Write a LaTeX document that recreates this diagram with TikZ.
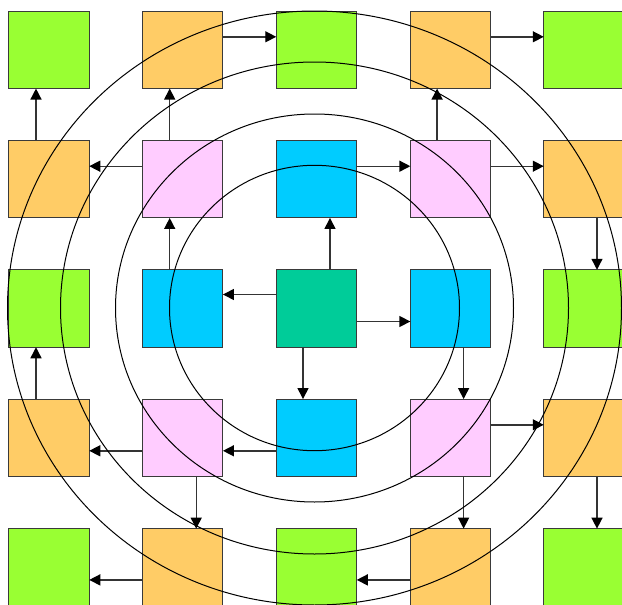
\documentclass[tikz,border=0pt]{standalone}
\usetikzlibrary{arrows.meta}
\definecolor{cgreen}{HTML}{99FF33}
\definecolor{corange}{HTML}{FFCC66}
\definecolor{cpink}{HTML}{FFCCFF}
\definecolor{cblue}{HTML}{00CCFF}
\definecolor{cteal}{HTML}{00CC99}
\definecolor{cedge}{HTML}{3A3A3A}
\begin{document}
\begin{tikzpicture}[x=1pt,y=-1pt,
  sq/.style={draw=cedge,line width=1pt,minimum width=80.5pt,minimum height=77.5pt,inner sep=0pt,outer sep=0pt},
  arr/.style={draw=cedge!90!black,line width=1.4pt,-{Triangle[length=11pt,width=11pt,fill=black,color=black]}},
  ring/.style={draw=black,line width=1pt}]
\clip (0,0) rectangle (622,605);
\fill[white] (0,0) rectangle (622,605);
% columns: 49, 182.7, 316.5, 450.6, 584 ; rows: 49.8, 179.2, 308.5, 437.8, 567.4
\node[sq,fill=cgreen]  (r1c1) at (49,49.8) {};
\node[sq,fill=corange] (r1c2) at (182.7,49.8) {};
\node[sq,fill=cgreen]  (r1c3) at (316.5,49.8) {};
\node[sq,fill=corange] (r1c4) at (450.6,49.8) {};
\node[sq,fill=cgreen]  (r1c5) at (584,49.8) {};
\node[sq,fill=corange] (r2c1) at (49,179.2) {};
\node[sq,fill=cpink]   (r2c2) at (182.7,179.2) {};
\node[sq,fill=cblue]   (r2c3) at (316.5,179.2) {};
\node[sq,fill=cpink]   (r2c4) at (450.6,179.2) {};
\node[sq,fill=corange] (r2c5) at (584,179.2) {};
\node[sq,fill=cgreen]  (r3c1) at (49,308.5) {};
\node[sq,fill=cblue]   (r3c2) at (182.7,308.5) {};
\node[sq,fill=cteal]   (r3c3) at (316.5,308.5) {};
\node[sq,fill=cblue]   (r3c4) at (450.6,308.5) {};
\node[sq,fill=cgreen]  (r3c5) at (584,308.5) {};
\node[sq,fill=corange] (r4c1) at (49,437.8) {};
\node[sq,fill=cpink]   (r4c2) at (182.7,437.8) {};
\node[sq,fill=cblue]   (r4c3) at (316.5,437.8) {};
\node[sq,fill=cpink]   (r4c4) at (450.6,437.8) {};
\node[sq,fill=corange] (r4c5) at (584,437.8) {};
\node[sq,fill=cgreen]  (r5c1) at (49,567.4) {};
\node[sq,fill=corange] (r5c2) at (182.7,567.4) {};
\node[sq,fill=cgreen]  (r5c3) at (316.5,567.4) {};
\node[sq,fill=corange] (r5c4) at (450.6,567.4) {};
\node[sq,fill=cgreen]  (r5c5) at (584,567.4) {};
% connectors
\draw[arr] ([yshift=13pt]r1c2.east) -- ([yshift=13pt]r1c3.west);
\draw[arr] ([yshift=13pt]r1c4.east) -- ([yshift=13pt]r1c5.west);
\draw[arr] ([xshift=-13pt]r2c1.north) -- ([xshift=-13pt]r1c1.south);
\draw[arr] ([xshift=-13pt]r2c2.north) -- ([xshift=-13pt]r1c2.south);
\draw[arr] ([yshift=13pt]r2c2.west) -- ([yshift=13pt]r2c1.east);
\draw[arr] ([xshift=-13pt]r3c2.north) -- ([xshift=-13pt]r2c2.south);
\draw[arr] ([yshift=14pt]r3c3.west) -- ([yshift=14pt]r3c2.east);
\draw[arr] ([xshift=13.5pt]r3c3.north) -- ([xshift=13.5pt]r2c3.south);
\draw[arr] ([yshift=13pt]r2c3.east) -- ([yshift=13pt]r2c4.west);
\draw[arr] ([xshift=-13.5pt]r2c4.north) -- ([xshift=-13.5pt]r1c4.south);
\draw[arr] ([yshift=13pt]r2c4.east) -- ([yshift=13pt]r2c5.west);
\draw[arr] ([xshift=13pt]r2c5.south) -- ([xshift=13pt]r3c5.north);
\draw[arr] ([yshift=-13pt]r3c3.east) -- ([yshift=-13pt]r3c4.west);
\draw[arr] ([xshift=13pt]r3c4.south) -- ([xshift=13pt]r4c4.north);
\draw[arr] ([yshift=13pt]r4c4.east) -- ([yshift=13pt]r4c5.west);
\draw[arr] ([xshift=13pt]r4c4.south) -- ([xshift=13pt]r5c4.north);
\draw[arr] ([xshift=13pt]r4c5.south) -- ([xshift=13pt]r5c5.north);
\draw[arr] ([yshift=-12.5pt]r5c4.west) -- ([yshift=-12.5pt]r5c3.east);
\draw[arr] ([xshift=-13.5pt]r3c3.south) -- ([xshift=-13.5pt]r4c3.north);
\draw[arr] ([yshift=-13pt]r4c3.west) -- ([yshift=-13pt]r4c2.east);
\draw[arr] ([yshift=-13pt]r4c2.west) -- ([yshift=-13pt]r4c1.east);
\draw[arr] ([xshift=-13pt]r4c1.north) -- ([xshift=-13pt]r3c1.south);
\draw[arr] ([xshift=13.5pt]r4c2.south) -- ([xshift=13.5pt]r5c2.north);
\draw[arr] ([yshift=-12.5pt]r5c2.west) -- ([yshift=-12.5pt]r5c1.east);
% rings
\coordinate (ctr) at (314.5,308);
\draw[ring] (ctr) ellipse [x radius=145pt, y radius=142.7pt];
\draw[ring] (ctr) ellipse [x radius=199pt, y radius=194pt];
\draw[ring] (ctr) ellipse [x radius=254pt, y radius=246pt];
\draw[ring] (ctr) ellipse [x radius=307pt, y radius=297pt];
\end{tikzpicture}
\end{document}
